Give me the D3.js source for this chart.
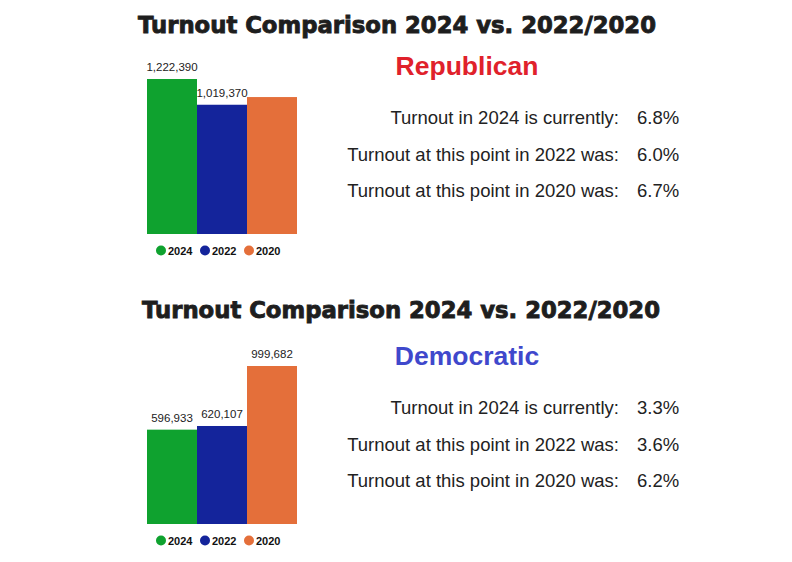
<!DOCTYPE html>
<html><head><meta charset="utf-8">
<script src="https://cdn.jsdelivr.net/npm/d3@7"></script>
<style>body{margin:0;background:#fff}svg{display:block}</style>
</head><body>
<script>
const years = ["2024", "2022", "2020"];
const colors = ["#0fa22f", "#14249b", "#e46f3a"];
const repValues = [1222390, 1019370, 1080000];
const repLabels = ["1,222,390", "1,019,370", ""];
const demValues = [596933, 620107, 999682];
const demLabels = ["596,933", "620,107", "999,682"];
const statLabels = ["Turnout in 2024 is currently:", "Turnout at this point in 2022 was:", "Turnout at this point in 2020 was:"];
const repPct = ["6.8%", "6.0%", "6.7%"];
const demPct = ["3.3%", "3.6%", "6.2%"];
const titleText = "Turnout Comparison 2024 vs. 2022/2020";

const W = 792, H = 562;
const svg = d3.select("body").append("svg").attr("width", W).attr("height", H);
const sans = "'Liberation Sans',Arial,sans-serif";

function panel(oy, titleY, titleX, party, partyColor, values, labels, pct, plotH) {
  const g = svg.append("g").attr("transform", `translate(0,${oy})`);
  g.append("text").attr("x", titleX).attr("y", titleY).attr("text-anchor", "middle")
    .attr("font-family", "'Arial Black','DejaVu Sans',sans-serif").attr("font-weight", 900)
    .attr("font-size", 23).attr("fill", "#1e1e1e").attr("stroke", "#1e1e1e").attr("stroke-width", 0.9)
    .attr("textLength", 518).attr("lengthAdjust", "spacingAndGlyphs").text(titleText);
  const base = 234;
  const x = d3.scaleBand().domain(years).range([147, 297]).padding(0);
  const y = d3.scaleLinear().domain([0, d3.max(values)]).range([base, base - plotH]);
  g.selectAll("rect.bar").data(values).join("rect").attr("class", "bar")
    .attr("x", (d, i) => x(years[i])).attr("width", x.bandwidth())
    .attr("y", d => y(d)).attr("height", d => base - y(d))
    .attr("fill", (d, i) => colors[i]);
  g.selectAll("text.val").data(values).join("text").attr("class", "val")
    .attr("x", (d, i) => x(years[i]) + x.bandwidth() / 2).attr("y", d => y(d) - 8)
    .attr("text-anchor", "middle").attr("font-family", sans)
    .attr("font-size", 11.5).attr("fill", "#222").text((d, i) => labels[i]);
  const legX = [161, 205, 249];
  years.forEach((yr, i) => {
    g.append("circle").attr("cx", legX[i]).attr("cy", 250.5).attr("r", 5).attr("fill", colors[i]);
    g.append("text").attr("x", legX[i] + 7).attr("y", 254.5)
      .attr("font-family", sans).attr("font-weight", "bold")
      .attr("font-size", 11).attr("fill", "#111").text(yr);
  });
  g.append("text").attr("x", 467).attr("y", 75).attr("text-anchor", "middle")
    .attr("font-family", sans).attr("font-weight", "bold")
    .attr("font-size", 26.5).attr("fill", partyColor).text(party);
  const rowY = [123.5, 160.5, 197];
  statLabels.forEach((s, i) => {
    g.append("text").attr("x", 619).attr("y", rowY[i]).attr("text-anchor", "end")
      .attr("font-family", sans).attr("font-size", 18.5)
      .attr("fill", "#222").text(s);
    g.append("text").attr("x", 637).attr("y", rowY[i])
      .attr("font-family", sans).attr("font-size", 18.5)
      .attr("fill", "#222").text(pct[i]);
  });
}
panel(0, 33, 397, "Republican", "#e0212b", repValues, repLabels, repPct, 155);
panel(290, 27.5, 401, "Democratic", "#3f48cc", demValues, demLabels, demPct, 158);
</script>
</body></html>
